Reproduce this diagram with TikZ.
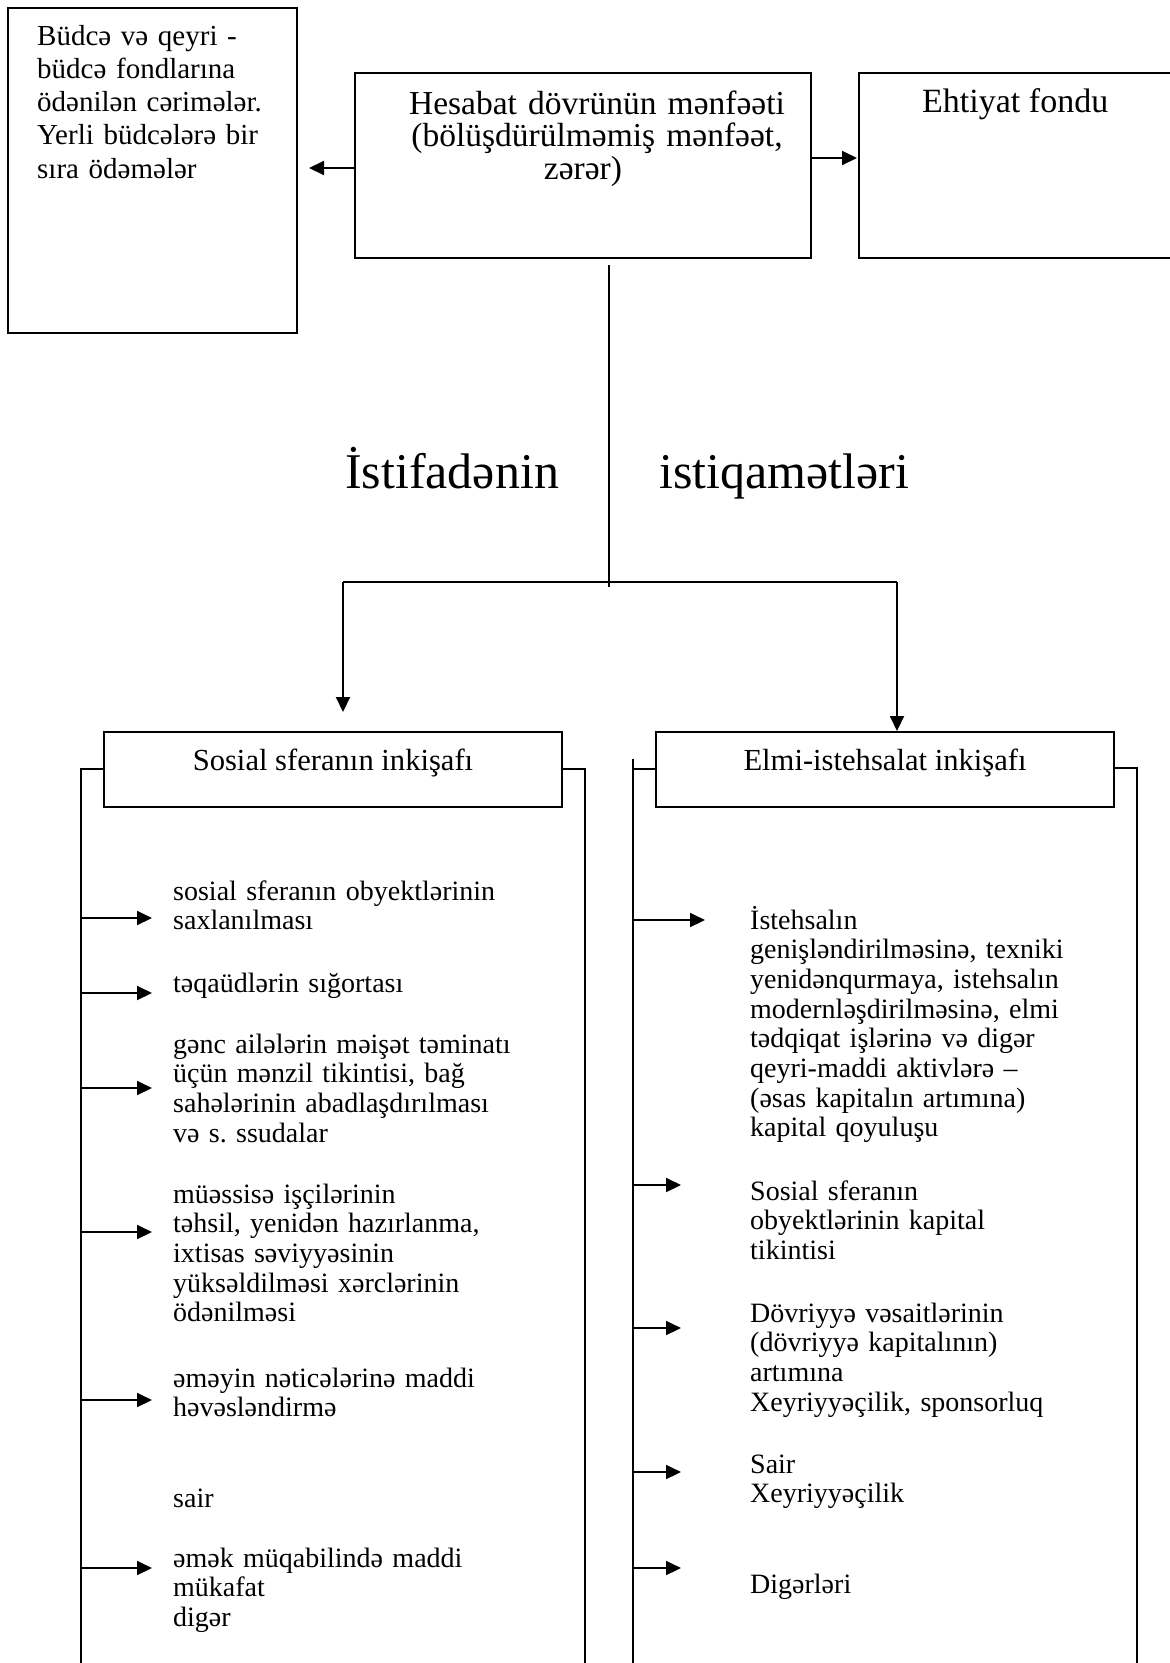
\documentclass[tikz,border=0pt]{standalone}
\usepackage{fontspec}
\setmainfont{Liberation Serif}
\usetikzlibrary{arrows.meta}
\frenchspacing

\begin{document}
\begin{tikzpicture}[x=1pt,y=-1pt,
  box/.style={draw, line width=2pt, inner sep=0pt},
  ln/.style={line width=2pt},
  arr/.style={line width=2pt, -{Triangle[length=15pt,width=14pt]}},
  txt/.style={inner sep=0pt, text width=420pt, align=left, anchor=base west},
  itemfont/.style={font=\fontsize{28}{29.7}\selectfont},
]
\useasboundingbox (0,0) rectangle (1170,1663);
\fill[white] (0,0) rectangle (1170,1663);

% top row of boxes
\node[box, minimum width=289pt, minimum height=325pt] (budce) at (152.5,170.5) {};
\node[box, minimum width=456pt, minimum height=185pt] (hes) at (583,165.5) {};
\node[box, minimum width=330pt, minimum height=185pt] (eht) at (1024,165.5) {};

\node[txt, font=\fontsize{29}{33.3}\selectfont] (budcetxt) at (37,45)
  {Büdcə və qeyri -\\büdcə fondlarına\\ödənilən cərimələr.\\Yerli büdcələrə bir\\sıra ödəmələr};
\node[inner sep=0pt, text width=440pt, align=center, anchor=base,
  font=\fontsize{33.5}{32.5}\selectfont] (hestxt) at (597,114)
  {Hesabat dövrünün mənfəəti\\(bölüşdürülməmiş mənfəət,\\zərər)\hspace*{28pt}\mbox{}};
\node[inner sep=0pt, anchor=base west, font=\fontsize{34}{36}\selectfont] (ehttxt) at (922,112)
  {Ehtiyat fondu};

% side arrows of the top box
\coordinate (lefttip) at (309,168);
\coordinate (rightrow) at (0,158);
\draw[arr] (hes.west |- lefttip) -- (lefttip);
\draw[arr] (hes.east |- rightrow) -- ([xshift=-1pt]eht.west |- rightrow);

% trunk and split
\coordinate (trunktop) at (609,265);
\coordinate (trunkend) at (609,587);
\coordinate (brL) at (343,582);
\coordinate (brR) at (897,582);
\coordinate (tipL) at (343,712);
\draw[ln] (trunktop) -- (trunkend);
\draw[ln] (brL) -- (brR);

\node[inner sep=0pt, anchor=base west, font=\fontsize{50}{52}\selectfont] (ist1) at (345,488) {İstifadənin};
\node[inner sep=0pt, anchor=base west, font=\fontsize{50}{52}\selectfont] (ist2) at (659,488) {istiqamətləri};

% two direction boxes
\node[box, minimum width=458pt, minimum height=75pt] (sos) at (333,769.5) {};
\node[box, minimum width=458pt, minimum height=75pt] (elmi) at (885,769.5) {};
\node[inner sep=0pt, anchor=base, font=\fontsize{30.6}{32}\selectfont] (sostxt) at (333,770) {Sosial sferanın inkişafı};
\node[inner sep=0pt, anchor=base, font=\fontsize{30.6}{32}\selectfont] (elmitxt) at (885,770) {Elmi-istehsalat inkişafı};

\draw[arr] (brL) -- (tipL);
\draw[arr] (brR) -- (brR |- elmi.north);

% column rails
\coordinate (railA) at (81,769);
\coordinate (railB) at (585,769);
\coordinate (railC) at (633,759);
\coordinate (railD) at (1137,768);
\draw[ln] (sos.west |- railA) -- (railA) -- (81,1680);
\draw[ln] (sos.east |- railB) -- (railB) -- (585,1680);
\draw[ln] (elmi.west |- 0,769) -- (633,769);
\draw[ln] (railC) -- (633,1680);
\draw[ln] (elmi.east |- railD) -- (railD) -- (1137,1680);

% left column items
\node[txt, itemfont] (l1) at (173,900) {sosial sferanın obyektlərinin\\saxlanılması};
\node[txt, itemfont] (l2) at (173,992) {təqaüdlərin sığortası};
\node[txt, itemfont] (l3) at (173,1053) {gənc ailələrin məişət təminatı\\üçün mənzil tikintisi, bağ\\sahələrinin abadlaşdırılması\\və s. ssudalar};
\node[txt, itemfont] (l4) at (173,1203) {müəssisə işçilərinin\\təhsil, yenidən hazırlanma,\\ixtisas səviyyəsinin\\yüksəldilməsi xərclərinin\\ödənilməsi};
\node[txt, itemfont] (l5) at (173,1387) {əməyin nəticələrinə maddi\\həvəsləndirmə};
\node[txt, itemfont] (l6) at (173,1507) {sair};
\node[txt, itemfont] (l7) at (173,1567) {əmək müqabilində maddi\\mükafat\\digər};

\foreach \yy in {918,993,1088,1232,1400,1568}
  \draw[arr] (81,\yy) -- (152,\yy);

% right column items
\node[txt, itemfont] (r1) at (750,929) {İstehsalın\\genişləndirilməsinə, texniki\\yenidənqurmaya, istehsalın\\modernləşdirilməsinə, elmi\\tədqiqat işlərinə və digər\\qeyri-maddi aktivlərə –\\(əsas kapitalın artımına)\\kapital qoyuluşu};
\node[txt, itemfont] (r2) at (750,1200) {Sosial sferanın\\obyektlərinin kapital\\tikintisi};
\node[txt, itemfont] (r3) at (750,1322) {Dövriyyə vəsaitlərinin\\(dövriyyə kapitalının)\\artımına\\Xeyriyyəçilik, sponsorluq};
\node[txt, itemfont] (r4) at (750,1473) {Sair\\Xeyriyyəçilik};
\node[txt, itemfont] (r5) at (750,1593) {Digərləri};

\draw[arr] (633,920) -- (705,920);
\foreach \yy in {1185,1328,1472,1568}
  \draw[arr] (633,\yy) -- (681,\yy);
\end{tikzpicture}
\end{document}
